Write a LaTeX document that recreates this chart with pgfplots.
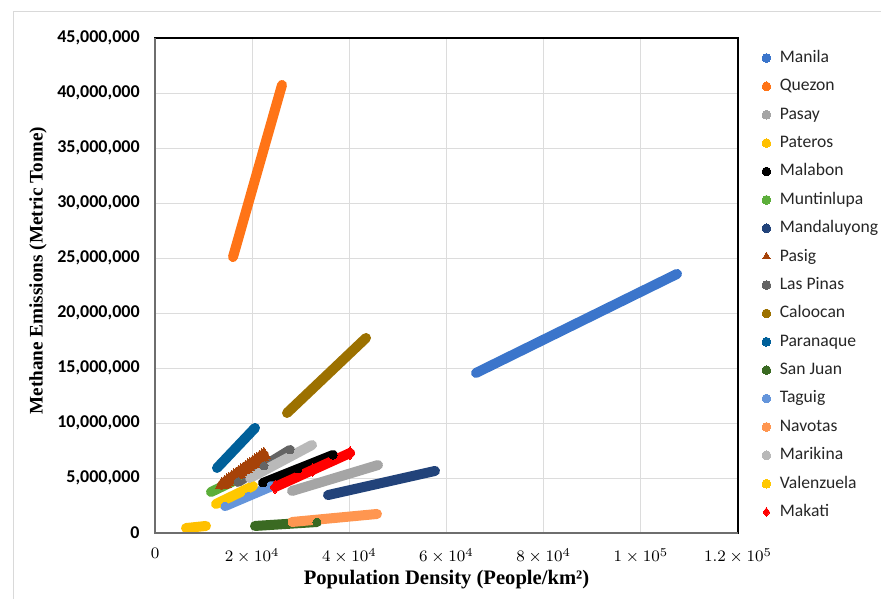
\documentclass[border=0pt]{standalone}
\usepackage{fontspec}
\setmainfont{Liberation Serif}
\newfontfamily\carlito{Carlito}
\usepackage{pgfplots}
\usepackage{pgfplotstable}
\pgfplotsset{compat=1.18}

\definecolor{cManila}{HTML}{3B75CB}
\definecolor{cQuezon}{HTML}{FF7417}
\definecolor{cPasay}{HTML}{A5A5A5}
\definecolor{cPateros}{HTML}{FFC000}
\definecolor{cMalabon}{HTML}{000000}
\definecolor{cMuntinlupa}{HTML}{5CAE3A}
\definecolor{cMandaluyong}{HTML}{22437A}
\definecolor{cPasig}{HTML}{A64208}
\definecolor{cLasPinas}{HTML}{646464}
\definecolor{cCaloocan}{HTML}{9C7100}
\definecolor{cParanaque}{HTML}{00609A}
\definecolor{cSanJuan}{HTML}{3A6A22}
\definecolor{cTaguig}{HTML}{6495DB}
\definecolor{cNavotas}{HTML}{FF9650}
\definecolor{cMarikina}{HTML}{B9B9B9}
\definecolor{cValenzuela}{HTML}{FFC800}
\definecolor{cMakati}{HTML}{FF0000}
\definecolor{gridc}{HTML}{DCDCDC}
\definecolor{axgray}{HTML}{6E6E6E}
\definecolor{legtext}{HTML}{262626}
\definecolor{borderc}{HTML}{D9D9D9}

\pgfplotstableread{
x y
66071 14550000
86757 19050000
107443 23550000
}\tManila
\pgfplotstableread{
x y
16055 25090000
21098 32910000
26140 40730000
}\tQuezon
\pgfplotstableread{
x y
28199 3820000
37050 5000000
45900 6180000
}\tPasay
\pgfplotstableread{
x y
6381 450000
8439 545000
10497 640000
}\tPateros
\pgfplotstableread{
x y
22230 4550000
29434 5820000
36638 7090000
}\tMalabon
\pgfplotstableread{
x y
11526 3730000
14305 4320000
17084 4910000
}\tMuntinlupa
\pgfplotstableread{
x y
35609 3450000
46620 4545000
57632 5640000
}\tMandaluyong
\pgfplotstableread{
x y
13790 4360000
14270 4510000
14751 4660000
15231 4815000
15711 4970000
16192 5120000
16672 5270000
17152 5420000
17632 5570000
18113 5725000
18593 5880000
19073 6030000
19553 6180000
20034 6330000
20514 6480000
20994 6635000
21474 6790000
21955 6940000
22435 7090000
}\tPasig
\pgfplotstableread{
x y
17084 4640000
22436 6100000
27787 7550000
}\tLasPinas
\pgfplotstableread{
x y
27170 10910000
35300 14320000
43430 17730000
}\tCaloocan
\pgfplotstableread{
x y
12761 5910000
16672 7730000
20583 9550000
}\tParanaque
\pgfplotstableread{
x y
20583 640000
26964 820000
33344 1000000
}\tSanJuan
\pgfplotstableread{
x y
14408 2450000
19245 3360000
24082 4270000
}\tTaguig
\pgfplotstableread{
x y
28199 1000000
36947 1365000
45694 1730000
}\tNavotas
\pgfplotstableread{
x y
19554 5000000
25935 6500000
32315 8000000
}\tMarikina
\pgfplotstableread{
x y
12556 2640000
16364 3455000
20171 4270000
}\tValenzuela
\pgfplotstableread{
x y
24700 4180000
32419 5725000
40137 7270000
}\tMakati

\pgfplotsset{
  band/.style={forget plot, draw=#1, line width=5pt, line cap=round, mark=none},
  dots/.style={only marks, mark=*, mark size=2.0pt, color=#1, mark options={line width=0pt, fill=#1, draw=none}},
}

\begin{document}
\begin{tikzpicture}[x=1pt,y=1pt]
\useasboundingbox (0,0) rectangle (440.5,299.5);
\draw[borderc, line width=0.5pt] (6.5,0) -- (6.5,293.5) -- (440.5,293.5);
\begin{axis}[
  at={(77.5pt,33pt)}, anchor=south west,
  scale only axis, width=291.5pt, height=247.5pt,
  xmin=0, xmax=120000, ymin=0, ymax=45000000,
  xtick={0,20000,40000,60000,80000,100000,120000},
  ytick={0,5000000,10000000,15000000,20000000,25000000,30000000,35000000,40000000,45000000},
  xticklabels={$0$,$2\times10^{4}$,$4\times10^{4}$,$6\times10^{4}$,$8\times10^{4}$,$1\times10^{5}$,$1.2\times10^{5}$},
  yticklabels={0,{5,000,000},{10,000,000},{15,000,000},{20,000,000},{25,000,000},{30,000,000},{35,000,000},{40,000,000},{45,000,000}},
  scaled ticks=false,
  grid=major, major grid style={draw=gridc, line width=0.5pt},
  major tick length=0pt,
  axis line style={draw=black, line width=1.25pt},
  yticklabel style={font=\carlito\bfseries\fontsize{9}{10}\selectfont, text=black, inner sep=0pt, xshift=-7.5pt},
  xticklabel style={font=\fontsize{8.3}{10}\selectfont, inner sep=0pt, yshift=-7.5pt},
  xlabel={Population Density (People/km²)},
  ylabel={Methane Emissions (Metric Tonne)},
  xlabel style={at={(axis description cs:0.5,-0.0949)}, anchor=center, font=\bfseries\fontsize{10.3}{12}\selectfont},
  ylabel style={at={(axis description cs:-0.2007,0.53)}, anchor=center, font=\bfseries\fontsize{9.6}{12}\selectfont},
  legend style={at={(1.0412,0.9758)}, anchor=north west, draw=none, fill=none,
    inner sep=0pt, outer sep=0pt, font=\carlito\fontsize{8.8}{10}\selectfont, text=legtext,
    row sep=6.19pt, column sep=4.5pt,
    nodes={inner sep=0pt, text height=6.2pt, text depth=1.8pt}},
  legend cell align=left,
  legend image code/.code={\draw[#1, mark size=2.2pt] plot coordinates {(0pt,0pt)};},
  after end axis/.code={
    \draw[axgray, line width=1.25pt] (rel axis cs:0,1) -- (rel axis cs:0,0) -- (rel axis cs:1,0);
  },
]
\addplot[band=cManila] table {\tManila};
\addplot[dots=cManila] table {\tManila};
\addlegendentry{Manila}
\addplot[band=cQuezon] table {\tQuezon};
\addplot[dots=cQuezon] table {\tQuezon};
\addlegendentry{Quezon}
\addplot[band=cPasay] table {\tPasay};
\addplot[dots=cPasay] table {\tPasay};
\addlegendentry{Pasay}
\addplot[band=cPateros] table {\tPateros};
\addplot[dots=cPateros] table {\tPateros};
\addlegendentry{Pateros}
\addplot[band=cMalabon] table {\tMalabon};
\addplot[dots=cMalabon] table {\tMalabon};
\addlegendentry{Malabon}
\addplot[band=cMuntinlupa] table {\tMuntinlupa};
\addplot[dots=cMuntinlupa] table {\tMuntinlupa};
\addlegendentry{Muntinlupa}
\addplot[band=cMandaluyong] table {\tMandaluyong};
\addplot[dots=cMandaluyong] table {\tMandaluyong};
\addlegendentry{Mandaluyong}
\addplot[band=cPasig] table {\tPasig};
\addplot[only marks, mark=triangle*, mark size=3.9pt, color=cPasig, mark options={line width=0pt, fill=cPasig, draw=none}] table {\tPasig};
\addlegendentry{Pasig}
\addplot[band=cLasPinas] table {\tLasPinas};
\addplot[dots=cLasPinas] table {\tLasPinas};
\addlegendentry{Las Pinas}
\addplot[band=cCaloocan] table {\tCaloocan};
\addplot[dots=cCaloocan] table {\tCaloocan};
\addlegendentry{Caloocan}
\addplot[band=cParanaque] table {\tParanaque};
\addplot[dots=cParanaque] table {\tParanaque};
\addlegendentry{Paranaque}
\addplot[band=cSanJuan] table {\tSanJuan};
\addplot[dots=cSanJuan] table {\tSanJuan};
\addlegendentry{San Juan}
\addplot[band=cTaguig] table {\tTaguig};
\addplot[dots=cTaguig] table {\tTaguig};
\addlegendentry{Taguig}
\addplot[band=cNavotas] table {\tNavotas};
\addplot[dots=cNavotas] table {\tNavotas};
\addlegendentry{Navotas}
\addplot[band=cMarikina] table {\tMarikina};
\addplot[dots=cMarikina] table {\tMarikina};
\addlegendentry{Marikina}
\addplot[band=cValenzuela] table {\tValenzuela};
\addplot[dots=cValenzuela] table {\tValenzuela};
\addlegendentry{Valenzuela}
\addplot[band=cMakati] table {\tMakati};
\addplot[only marks, mark=diamond*, mark size=3.2pt, color=cMakati, mark options={line width=0pt, fill=cMakati, draw=none}] table {\tMakati};
\addlegendentry{Makati}
\end{axis}
\end{tikzpicture}
\end{document}
